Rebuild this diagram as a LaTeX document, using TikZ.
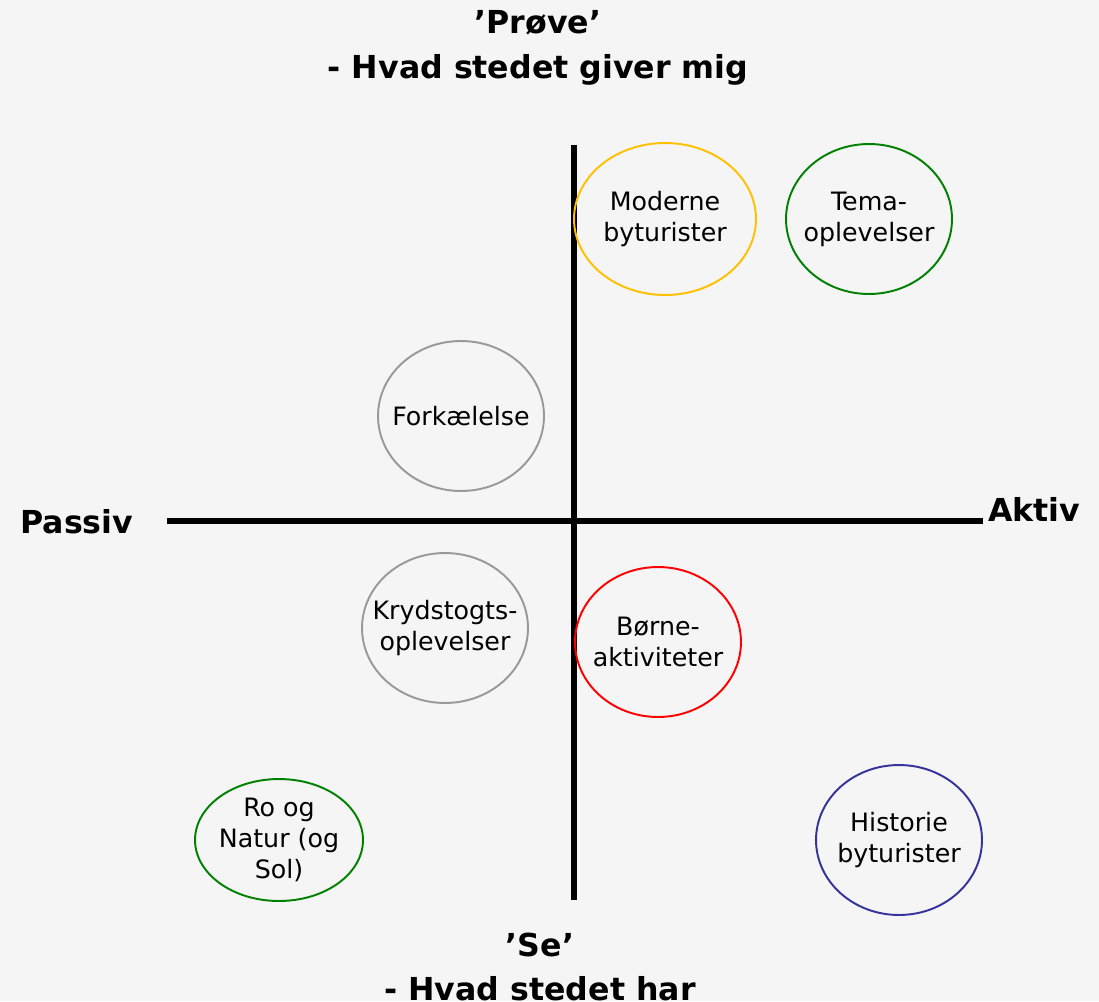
\documentclass[tikz,border=0pt]{standalone}
\usepackage{fontspec}
\setmainfont{DejaVu Sans}
\usetikzlibrary{shapes.geometric}
\definecolor{bgrey}{HTML}{F5F5F5}
\definecolor{gold}{HTML}{FFC000}
\definecolor{leaf}{HTML}{008000}
\definecolor{ash}{HTML}{999999}
\definecolor{navy}{HTML}{333399}

\begin{document}
\begin{tikzpicture}[x=0.02cm,y=-0.02cm,
  ring/.style={ellipse, draw=#1, line width=1.1pt, inner sep=0pt, minimum width=3.32cm, minimum height=3cm},
  txt/.style={align=center, font=\fontsize{14.4}{17.6}\selectfont},
  head/.style={align=center, font=\fontsize{18}{25.3}\selectfont\bfseries}]
  \fill[bgrey] (0,0) rectangle (1099,1001);
  \useasboundingbox (0,0) rectangle (1099,1001);
  % axes
  \coordinate (west) at (167,521); \coordinate (east) at (983,521);
  \coordinate (north) at (574,145); \coordinate (south) at (574,900);
  \draw[line width=3.2pt] (west) -- (east);
  \draw[line width=3.2pt] (north) -- (south);
  \node[head] (prove) at (538,48) {’Prøve’\\- Hvad stedet giver mig};
  \node[head] (se) at (540,967) {’Se’\\- Hvad stedet har};
  \node[head, anchor=base west, inner sep=0pt] (passiv) at (20,533) {Passiv};
  \node[head, anchor=base west, inner sep=0pt] (aktiv) at (988,521) {Aktiv};
  % segments
  \node[ring=gold, minimum width=3.64cm, minimum height=3.04cm] (moderne) at (665,219) {};
  \node[txt] (moderneT) at (moderne) {Moderne\\byturister};
  \node[ring=leaf] (tema) at (869,219) {};
  \node[txt] (temaT) at (tema) {Tema-\\oplevelser};
  \node[ring=ash] (forkael) at (461,416) {};
  \node[txt] (forkaelT) at (forkael) {Forkælelse};
  \node[ring=ash] (kryds) at (445,628) {};
  \node[txt] (krydsT) at (kryds) {Krydstogts-\\oplevelser};
  \node[ring=red] (boern) at (658,642) {};
  \node[txt] (boernT) at (boern) {Børne-\\aktiviteter};
  \node[ring=leaf, minimum width=3.36cm, minimum height=2.44cm] (ro) at (279,840) {};
  \node[txt] (roT) at (ro) {Ro og\\Natur (og\\Sol)};
  \node[ring=navy] (hist) at (899,840) {};
  \node[txt] (histT) at (hist) {Historie\\byturister};
\end{tikzpicture}
\end{document}
